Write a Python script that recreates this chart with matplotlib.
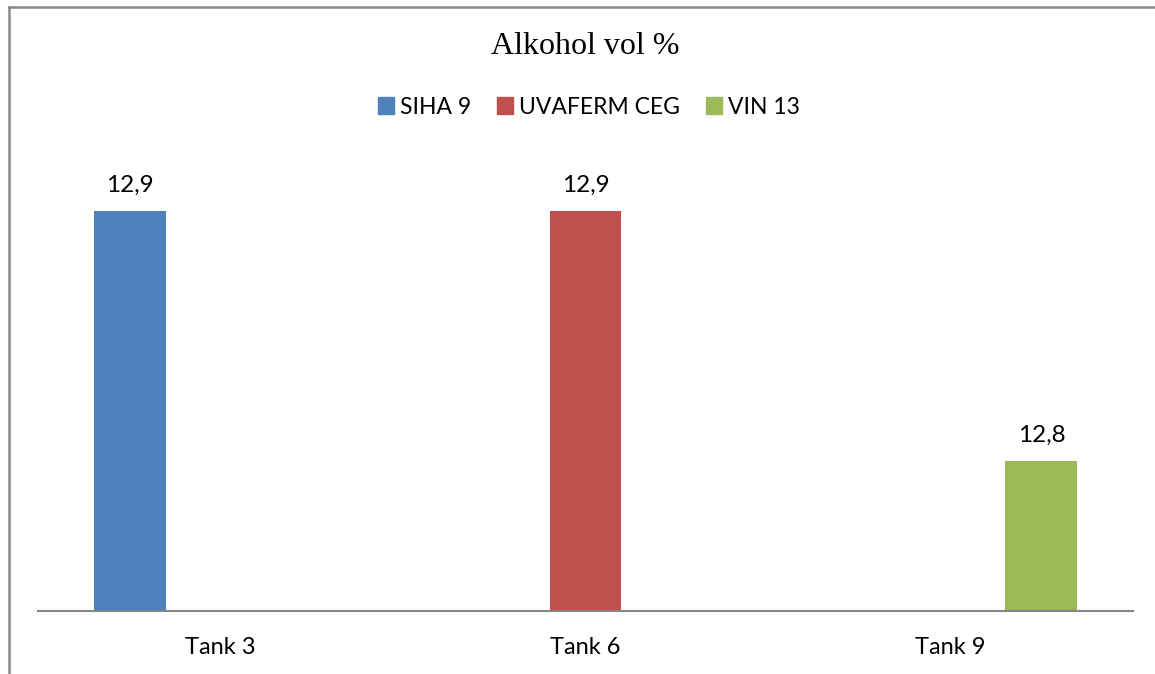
import matplotlib.pyplot as plt
from matplotlib.lines import Line2D
from matplotlib.patches import Patch
import numpy as np

tanks = ['Tank 3', 'Tank 6', 'Tank 9']
series = ['SIHA 9', 'UVAFERM CEG', 'VIN 13']
siha9 = [12.9, None, None]
uvaferm = [None, 12.9, None]
vin13 = [None, None, 12.8]
colors = ['#4F81BD', '#C0504D', '#9BBB59']

W, H = 1155, 674
fig = plt.figure(figsize=(W / 100, H / 100), dpi=100)
plt.rcParams['font.family'] = ['Lato', 'DejaVu Sans']

# plot area in pixels: x 38..1133, baseline at 611, top at 150
ax = fig.add_axes([38 / W, (H - 611) / H, (1133 - 38) / W, (611 - 150) / H])
ymin = 12.74
ax.set_ylim(ymin, ymin + (611 - 150) / 2500)
ax.set_xlim(-0.5, 2.5)

x = np.arange(len(tanks))
width = 0.197
offsets = [-0.249, 0, 0.249]
for vals, off, col in zip([siha9, uvaferm, vin13], offsets, colors):
    for xi, v in zip(x, vals):
        if v is None:
            continue
        ax.bar(xi + off, v - ymin, width, bottom=ymin, color=col, zorder=2)
        ax.annotate(f'{v:.1f}'.replace('.', ','), (xi + off, v),
                    xytext=(0, 13.5), textcoords='offset points',
                    ha='center', va='baseline', fontsize=17.5, color='black')

for s in ['top', 'right', 'left']:
    ax.spines[s].set_visible(False)
ax.spines['bottom'].set_color('#868686')
ax.spines['bottom'].set_linewidth(1.5)
ax.set_yticks([])
ax.set_xticks(x)
ax.set_xticklabels(tanks, fontsize=17)
ax.tick_params(axis='x', length=0, pad=19)

fig.text(585 / W, 1 - 47 / H, 'Alkohol vol %', ha='center', va='center',
         fontsize=23, family=['Liberation Serif'])

handles = [Patch(color=c, label=s) for c, s in zip(colors, series)]
fig.legend(handles=handles, loc='center', bbox_to_anchor=(589 / W, 1 - 107 / H),
           ncol=3, frameon=False, fontsize=16.5, handlelength=0.7, handleheight=0.7,
           handletextpad=0.25, columnspacing=1.15, borderpad=0)

# outer chart frame (left and top edges visible)
fig.add_artist(Line2D([8.5 / W, 8.5 / W], [0, 1 - 6.5 / H], color='#898989', lw=1.8))
fig.add_artist(Line2D([8.5 / W, 1], [1 - 6.5 / H, 1 - 6.5 / H], color='#898989', lw=1.8))

fig.savefig('out.png', dpi=100)
